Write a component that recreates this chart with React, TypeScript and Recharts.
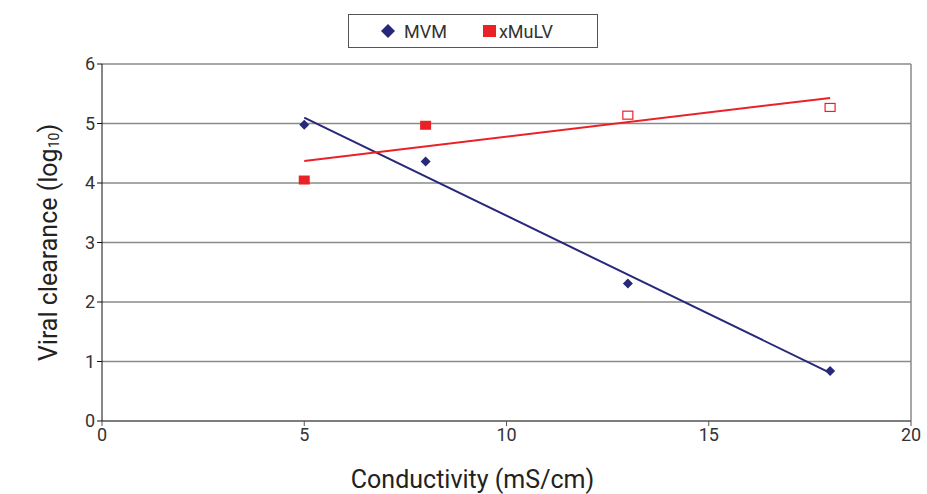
import { ComposedChart, Scatter, Line, XAxis, YAxis, CartesianGrid, ReferenceLine, Label } from "recharts";

const conductivity = [5, 8, 13, 18];
const mvmValues = [4.98, 4.36, 2.31, 0.84];
const xmulvValues = [4.05, 4.97, 5.14, 5.27];
const xmulvOpen = [false, false, true, true];

const trendX = [5, 18];
const mvmTrend = [5.1, 0.81];
const xmulvTrend = [4.37, 5.43];

const xTicks = [0, 5, 10, 15, 20];
const yTicks = [0, 1, 2, 3, 4, 5, 6];

const NAVY = "#27287a";
const RED = "#ea2228";

const mvmData = conductivity.map((x, i) => ({ x, y: mvmValues[i] }));
const xmulvData = conductivity.map((x, i) => ({ x, y: xmulvValues[i], open: xmulvOpen[i] }));
const mvmLine = trendX.map((x, i) => ({ x, y: mvmTrend[i] }));
const xmulvLine = trendX.map((x, i) => ({ x, y: xmulvTrend[i] }));

const font = "Roboto, 'DejaVu Sans', sans-serif";

function Diamond(props: any) {
  const { cx, cy } = props;
  const r = 5;
  return <polygon points={`${cx},${cy - r} ${cx + r},${cy} ${cx},${cy + r} ${cx - r},${cy}`} fill={NAVY} />;
}

function Square(props: any) {
  const { cx, cy, payload } = props;
  if (payload.open) {
    return <rect x={cx - 5} y={cy - 4} width={10} height={8} fill="#fff" stroke={RED} strokeWidth={1.2} />;
  }
  return <rect x={cx - 5.5} y={cy - 4.5} width={11} height={9} fill={RED} />;
}

function LegendBox() {
  return (
    <div
      style={{
        position: "absolute",
        left: 348,
        top: 14,
        width: 250,
        height: 34,
        border: "1px solid #555",
        background: "#fff",
        display: "flex",
        alignItems: "center",
        fontFamily: font,
        fontSize: 18,
        color: "#333",
        boxSizing: "border-box",
      }}
    >
      <svg width={16} height={16} style={{ marginLeft: 31 }}>
        <polygon points="8,1 15,8 8,15 1,8" fill={NAVY} />
      </svg>
      <span style={{ marginLeft: 8 }}>MVM</span>
      <svg width={14} height={14} style={{ marginLeft: 36 }}>
        <rect x={0} y={1} width={13} height={12} fill={RED} />
      </svg>
      <span style={{ marginLeft: 2 }}>xMuLV</span>
    </div>
  );
}

function YTitle(props: any) {
  const { viewBox } = props;
  const cx = 48;
  const cy = viewBox.y + viewBox.height / 2;
  return (
    <text
      x={cx}
      y={cy}
      transform={`rotate(-90, ${cx}, ${cy})`}
      textAnchor="middle"
      dominantBaseline="central"
      fontFamily={font}
      fontSize={25}
      fill="#222"
    >
      Viral clearance (log
      <tspan fontSize={14} dy={6}>10</tspan>
      <tspan dy={-6}>)</tspan>
    </text>
  );
}

function XTitle(props: any) {
  const { viewBox } = props;
  const cx = viewBox.x + viewBox.width / 2 - 34;
  return (
    <text x={cx} y={488} textAnchor="middle" fontFamily={font} fontSize={25} fill="#222">
      Conductivity (mS/cm)
    </text>
  );
}

export default function App() {
  return (
    <div style={{ position: "absolute", left: 0, top: 0, width: 927, height: 494, background: "#fff" }}>
      <ComposedChart width={927} height={494} margin={{ top: 64, right: 16, left: 52, bottom: 43 }}>
        <CartesianGrid horizontal vertical={false} stroke="#8a8a8a" strokeWidth={1.5} />
        <XAxis
          type="number"
          dataKey="x"
          domain={[0, 20]}
          ticks={xTicks}
          height={30}
          stroke="#555"
          tickSize={5}
          tick={{ fill: "#333", fontSize: 18, fontFamily: font }}
        >
          <Label content={XTitle} />
        </XAxis>
        <YAxis
          type="number"
          dataKey="y"
          domain={[0, 6]}
          ticks={yTicks}
          width={50}
          stroke="#111"
          tickSize={5}
          tick={{ fill: "#333", fontSize: 18, fontFamily: font }}
        >
          <Label content={YTitle} />
        </YAxis>
        <ReferenceLine x={20} stroke="#8a8a8a" strokeWidth={1.5} />
        <Line data={mvmLine} dataKey="y" stroke={NAVY} strokeWidth={2} dot={false} isAnimationActive={false} legendType="none" />
        <Line data={xmulvLine} dataKey="y" stroke={RED} strokeWidth={2} dot={false} isAnimationActive={false} legendType="none" />
        <Scatter name="MVM" data={mvmData} shape={Diamond} isAnimationActive={false} />
        <Scatter name="xMuLV" data={xmulvData} shape={Square} isAnimationActive={false} />
      </ComposedChart>
      <LegendBox />
    </div>
  );
}
